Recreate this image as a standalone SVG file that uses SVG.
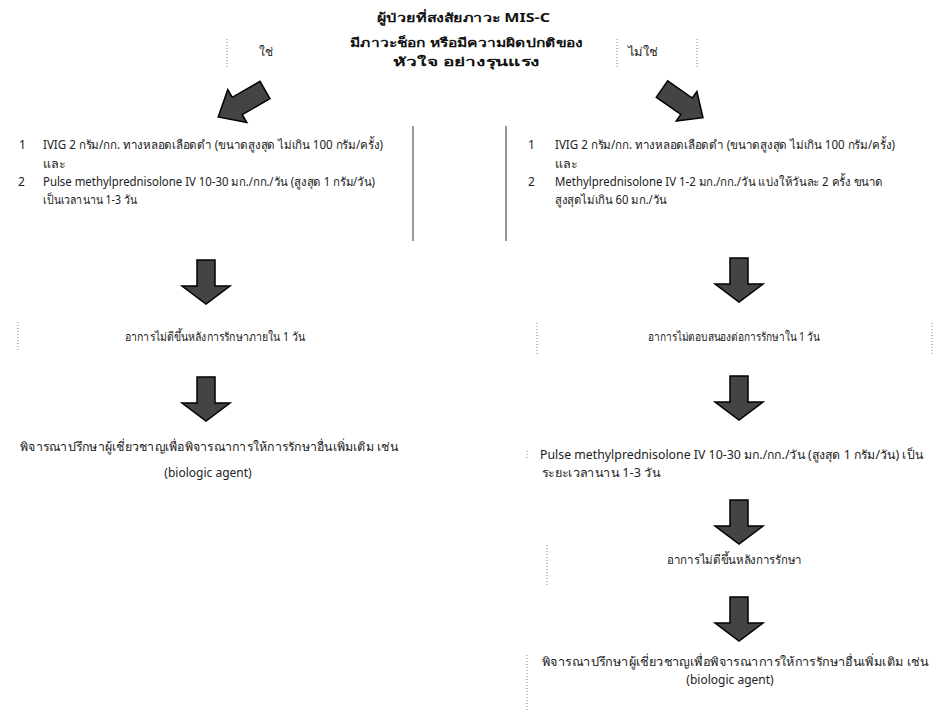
<svg xmlns="http://www.w3.org/2000/svg" width="941" height="711" viewBox="0 0 941 711">
  <style>
    .t { font-family: "Noto Sans", "DejaVu Sans", sans-serif; font-size: 12px; fill: #222; }
    .title { font-family: "Noto Sans", "DejaVu Sans", sans-serif; font-size: 12px; font-weight: bold; fill: #111; }
    .mid { text-anchor: middle; }
    .dot { stroke: #888; stroke-width: 1; stroke-dasharray: 1 2; fill: none; }
    .rule { stroke: #333; stroke-width: 1; fill: none; }
    .arrow { fill: #444; stroke: #000; stroke-width: 1.5; stroke-linejoin: miter; }
  </style>
  <defs>
    <!-- block down arrow, 44 tall, origin at top centre -->
    <path id="down" d="M -9 0 H 9 V 26 H 24 L 0 44 L -24 26 H -9 Z"/>
  </defs>

  <rect width="941" height="711" fill="#fff"/>

  <g id="start">
    <text class="title" x="377" y="22" textLength="173" lengthAdjust="spacingAndGlyphs">ผู้ป่วยที่สงสัยภาวะ MIS-C</text>
    <text class="title" x="350" y="47" textLength="233" lengthAdjust="spacingAndGlyphs">มีภาวะช็อก หรือมีความผิดปกติของ</text>
    <text class="title" x="393" y="66" textLength="147" lengthAdjust="spacingAndGlyphs">หัวใจ อย่างรุนแรง</text>
  </g>

  <g id="label-yes">
    <line class="dot" x1="227" y1="39" x2="227" y2="68"/>
    <text class="t" x="259" y="56">ใช่</text>
  </g>
  <g id="label-no">
    <line class="dot" x1="617" y1="39" x2="617" y2="68"/>
    <line class="dot" x1="697" y1="39" x2="697" y2="68"/>
    <text class="t" x="628" y="56" textLength="30" lengthAdjust="spacingAndGlyphs">ไม่ใช่</text>
  </g>

  <g id="connectors">
    <!-- diagonal branch arrows -->
    <path class="arrow" transform="translate(265,90) rotate(150)" d="M 0 -10 H 32 V -19 L 54 0 L 32 19 V 10 H 0 Z"/>
    <path class="arrow" transform="translate(662,89) rotate(35)" d="M 0 -10 H 30 V -18 L 50 0 L 30 18 V 10 H 0 Z"/>
    <!-- vertical step arrows -->
    <use href="#down" class="arrow" x="206" y="260"/>
    <use href="#down" class="arrow" x="206" y="377"/>
    <use href="#down" class="arrow" x="739" y="258"/>
    <use href="#down" class="arrow" x="739" y="376"/>
    <use href="#down" class="arrow" x="739" y="500"/>
    <use href="#down" class="arrow" x="739" y="597"/>
  </g>

  <g id="left-treatment">
    <line class="rule" x1="413" y1="126" x2="413" y2="241"/>
    <text class="t" x="19" y="149">1</text>
    <text class="t" x="43" y="149" textLength="340" lengthAdjust="spacingAndGlyphs">IVIG 2 กรัม/กก. ทางหลอดเลือดดำ (ขนาดสูงสุด ไม่เกิน 100 กรัม/ครั้ง)</text>
    <text class="t" x="43" y="168" textLength="22" lengthAdjust="spacingAndGlyphs">และ</text>
    <text class="t" x="18" y="186">2</text>
    <text class="t" x="43" y="186" textLength="332" lengthAdjust="spacingAndGlyphs">Pulse methylprednisolone IV 10-30 มก./กก./วัน (สูงสุด 1 กรัม/วัน)</text>
    <text class="t" x="43" y="204" textLength="94" lengthAdjust="spacingAndGlyphs">เป็นเวลานาน 1-3 วัน</text>
  </g>

  <g id="right-treatment">
    <line class="rule" x1="506" y1="126" x2="506" y2="241"/>
    <text class="t" x="528" y="149">1</text>
    <text class="t" x="555" y="149" textLength="340" lengthAdjust="spacingAndGlyphs">IVIG 2 กรัม/กก. ทางหลอดเลือดดำ (ขนาดสูงสุด ไม่เกิน 100 กรัม/ครั้ง)</text>
    <text class="t" x="555" y="168" textLength="22" lengthAdjust="spacingAndGlyphs">และ</text>
    <text class="t" x="528" y="186">2</text>
    <text class="t" x="555" y="186" textLength="328" lengthAdjust="spacingAndGlyphs">Methylprednisolone IV 1-2 มก./กก./วัน แบ่งให้วันละ 2 ครั้ง ขนาด</text>
    <text class="t" x="555" y="204" textLength="112" lengthAdjust="spacingAndGlyphs">สูงสุดไม่เกิน 60 มก./วัน</text>
  </g>

  <g id="left-response">
    <line class="dot" x1="18" y1="322" x2="18" y2="350"/>
    <text class="t" x="125" y="341" textLength="180" lengthAdjust="spacingAndGlyphs">อาการไม่ดีขึ้นหลังการรักษาภายใน 1 วัน</text>
  </g>

  <g id="right-response">
    <line class="dot" x1="537" y1="323" x2="537" y2="355"/>
    <line class="dot" x1="932" y1="323" x2="932" y2="355"/>
    <text class="t" x="648" y="341" textLength="172" lengthAdjust="spacingAndGlyphs">อาการไม่ตอบสนองต่อการรักษาใน 1 วัน</text>
  </g>

  <g id="left-consult">
    <text class="t" x="20" y="451" textLength="378" lengthAdjust="spacingAndGlyphs">พิจารณาปรึกษาผู้เชี่ยวชาญเพื่อพิจารณาการให้การรักษาอื่นเพิ่มเติม เช่น</text>
    <text class="t mid" x="208" y="477">(biologic agent)</text>
  </g>

  <g id="right-pulse">
    <line class="dot" x1="527" y1="451" x2="527" y2="460"/>
    <text class="t" x="540" y="459" textLength="383" lengthAdjust="spacingAndGlyphs">Pulse methylprednisolone IV 10-30 มก./กก./วัน (สูงสุด 1 กรัม/วัน) เป็น</text>
    <text class="t" x="542" y="477" textLength="118" lengthAdjust="spacingAndGlyphs">ระยะเวลานาน 1-3 วัน</text>
  </g>

  <g id="right-response-2">
    <line class="dot" x1="547" y1="545" x2="547" y2="585"/>
    <text class="t" x="667" y="564" textLength="135" lengthAdjust="spacingAndGlyphs">อาการไม่ดีขึ้นหลังการรักษา</text>
  </g>

  <g id="right-consult">
    <line class="dot" x1="527" y1="655" x2="527" y2="710"/>
    <text class="t" x="542" y="666" textLength="386" lengthAdjust="spacingAndGlyphs">พิจารณาปรึกษาผู้เชี่ยวชาญเพื่อพิจารณาการให้การรักษาอื่นเพิ่มเติม เช่น</text>
    <text class="t mid" x="730" y="684">(biologic agent)</text>
  </g>
</svg>
